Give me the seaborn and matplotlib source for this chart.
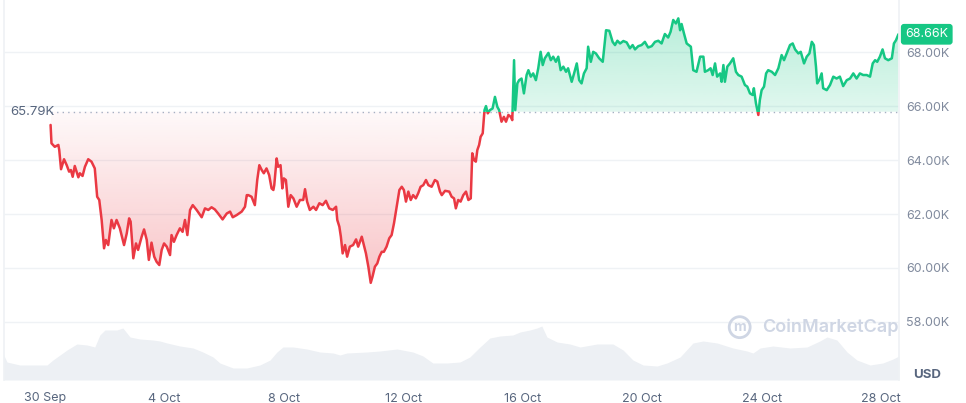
import matplotlib
matplotlib.use("Agg")
import matplotlib.pyplot as plt
import matplotlib.dates as mdates
import seaborn as sns
import numpy as np
import pandas as pd
from matplotlib.patches import Rectangle
from matplotlib.path import Path


START = pd.Timestamp("2024-09-30")
BASE_PRICE = 65.79
LAST_PRICE = 68.66

GREEN = "#16c784"
RED = "#ea3943"

# price in thousand USD, time in days after 30 Sep 00:00
price_day = [
    0.19, 0.22, 0.33, 0.45, 0.48, 0.54, 0.64, 0.73, 0.81, 0.87, 0.93, 1.00, 1.12, 1.17, 1.26, 1.34,
    1.45, 1.56, 1.67, 1.75, 1.82, 1.90, 1.98, 2.04, 2.12, 2.23, 2.31, 2.40, 2.51, 2.65, 2.74, 2.82,
    2.87, 2.96, 3.05, 3.12, 3.24, 3.32, 3.41, 3.48, 3.57, 3.66, 3.74, 3.83, 3.91, 3.99, 4.08, 4.19,
    4.24, 4.32, 4.41, 4.52, 4.61, 4.69, 4.77, 4.86, 4.95, 5.08, 5.25, 5.36, 5.47, 5.58, 5.69, 5.80,
    5.95, 6.09, 6.20, 6.29, 6.42, 6.59, 6.70, 6.76, 6.81, 6.92, 7.03, 7.11, 7.18, 7.26, 7.33, 7.42,
    7.51, 7.59, 7.65, 7.68, 7.76, 7.81, 7.89, 7.95, 8.00, 8.07, 8.15, 8.23, 8.32, 8.43, 8.54, 8.65,
    8.71, 8.78, 8.87, 8.99, 9.08, 9.19, 9.30, 9.41, 9.52, 9.64, 9.75, 9.79, 9.86, 9.91, 9.97, 10.05,
    10.12, 10.21, 10.32, 10.42, 10.49, 10.61, 10.68, 10.75, 10.83, 10.91, 10.97, 11.05, 11.13, 11.20,
    11.28, 11.35, 11.44, 11.53, 11.61, 11.69, 11.78, 11.87, 11.95, 12.02, 12.09, 12.17, 12.25, 12.33,
    12.42, 12.50, 12.58, 12.67, 12.76, 12.84, 12.95, 13.06, 13.14, 13.23, 13.29, 13.40, 13.54, 13.62,
    13.70, 13.76, 13.84, 13.92, 14.01, 14.10, 14.18, 14.26, 14.31, 14.37, 14.43, 14.48, 14.54, 14.59,
    14.66, 14.72, 14.77, 14.83, 14.90, 14.99, 15.07, 15.15, 15.21, 15.29, 15.37, 15.44, 15.52, 15.60,
    15.65, 15.71, 15.75, 15.82, 15.88, 15.96, 16.04, 16.13, 16.19, 16.27, 16.35, 16.44, 16.52, 16.60,
    16.67, 16.74, 16.86, 16.94, 17.02, 17.11, 17.19, 17.27, 17.36, 17.45, 17.52, 17.64, 17.72, 17.81,
    17.89, 17.97, 18.05, 18.14, 18.19, 18.28, 18.36, 18.45, 18.56, 18.68, 18.79, 18.90, 19.01, 19.09,
    19.17, 19.26, 19.37, 19.48, 19.59, 19.68, 19.76, 19.87, 19.98, 20.09, 20.20, 20.32, 20.43, 20.54,
    20.65, 20.76, 20.87, 20.95, 21.04, 21.13, 21.21, 21.27, 21.32, 21.40, 21.49, 21.63, 21.71, 21.82,
    21.94, 22.05, 22.10, 22.21, 22.29, 22.36, 22.44, 22.51, 22.61, 22.66, 22.72, 22.77, 22.85, 22.94,
    23.05, 23.14, 23.22, 23.33, 23.44, 23.52, 23.61, 23.70, 23.74, 23.81, 23.89, 23.94, 24.00, 24.08,
    24.15, 24.22, 24.34, 24.45, 24.56, 24.67, 24.75, 24.86, 24.95, 25.04, 25.12, 25.23, 25.31, 25.42,
    25.51, 25.60, 25.68, 25.75, 25.82, 25.86, 25.93, 26.01, 26.06, 26.18, 26.29, 26.40, 26.51, 26.62,
    26.73, 26.85, 26.96, 27.07, 27.18, 27.29, 27.40, 27.52, 27.63, 27.72, 27.80, 27.87, 27.96, 28.05,
    28.13, 28.24, 28.36, 28.43, 28.50, 28.58,
]
price_k = [
    65.30, 64.62, 64.49, 64.56, 64.37, 63.66, 64.03, 63.81, 63.57, 63.63, 63.38, 63.78, 63.36, 63.51, 63.41, 63.75,
    64.03, 63.94, 63.69, 62.64, 62.52, 61.78, 60.73, 61.04, 60.85, 61.78, 61.47, 61.78, 61.47, 60.85, 61.28, 61.84,
    61.72, 60.36, 60.91, 60.67, 61.16, 61.43, 61.04, 60.30, 60.94, 60.42, 60.23, 60.11, 60.67, 60.91, 60.79, 60.48,
    61.22, 60.97, 61.22, 61.47, 61.34, 61.78, 61.22, 62.15, 62.33, 62.15, 61.88, 62.21, 62.15, 62.25, 62.17, 62.02,
    61.80, 62.02, 62.09, 61.88, 61.96, 62.09, 62.27, 62.70, 62.70, 62.64, 62.33, 63.26, 63.81, 63.63, 63.51, 63.69,
    63.44, 62.95, 62.89, 63.07, 64.06, 63.75, 63.81, 62.95, 63.32, 63.26, 62.27, 62.70, 62.58, 62.27, 62.52, 62.52,
    62.92, 62.46, 62.15, 62.27, 62.15, 62.40, 62.33, 62.49, 62.21, 62.15, 62.27, 61.78, 61.53, 61.16, 60.54, 60.85,
    60.42, 60.79, 60.85, 61.06, 60.79, 61.16, 60.85, 60.54, 60.05, 59.45, 59.68, 60.05, 60.17, 60.42,
    60.60, 60.60, 60.79, 61.10, 61.22, 61.66, 62.27, 62.89, 63.01, 62.89, 62.46, 62.83, 62.52, 62.70,
    62.58, 62.77, 63.01, 63.07, 63.26, 63.07, 63.01, 63.26, 63.20, 62.83, 62.70, 62.86, 62.83, 62.64,
    62.58, 62.21, 62.52, 62.46, 62.70, 62.83, 62.52, 62.58, 64.25, 64.00, 63.94, 64.37, 64.56, 64.86,
    64.99, 65.85, 66.00, 65.73, 65.85, 65.91, 66.34, 65.97, 65.85, 65.42, 65.60, 65.42, 65.67, 65.60,
    65.48, 67.70, 65.85, 66.84, 66.96, 67.02, 66.47, 67.15, 67.33, 67.09, 67.21, 66.96, 67.40, 68.01,
    67.52, 67.77, 67.97, 67.70, 67.83, 67.64, 67.83, 67.33, 67.46, 67.27, 67.40, 66.90, 67.21, 67.58,
    66.96, 66.84, 67.21, 67.40, 68.20, 67.64, 68.01, 67.95, 67.77, 67.64, 68.81, 68.79, 68.38, 68.26,
    68.42, 68.32, 68.41, 68.36, 68.14, 68.26, 68.10, 68.22, 68.26, 68.38, 68.17, 68.22, 68.38, 68.42,
    68.32, 68.67, 68.54, 68.75, 69.19, 69.06, 69.25, 68.81, 69.04, 68.69, 68.32, 68.20, 67.33, 67.27,
    67.83, 67.83, 67.27, 67.33, 67.40, 67.15, 67.58, 67.09, 67.21, 66.90, 67.52, 66.90, 67.46, 67.58,
    67.77, 67.27, 67.15, 67.09, 66.78, 66.72, 66.47, 66.41, 66.66, 66.10, 65.67, 66.22, 66.59, 66.72,
    67.21, 67.33, 67.27, 67.15, 67.40, 67.89, 67.70, 68.01, 68.26, 68.32, 68.10, 67.95, 68.01, 67.58,
    67.83, 67.95, 68.38, 68.26, 67.46, 66.84, 66.96, 67.21, 66.66, 66.59, 66.78, 67.09, 67.02, 67.09,
    66.74, 66.96, 67.02, 67.21, 67.02, 67.21, 67.15, 67.15, 67.09, 67.58, 67.70, 67.64, 67.83, 68.10,
    67.77, 67.70, 67.77, 68.32, 68.44, 68.66,
]

# 24h volume, billion USD
vol_day = [
    -1.41, -1.27, -0.84, 0.07, 0.27, 0.74, 1.07, 1.41, 1.67, 1.84, 2.01, 2.41, 2.61, 2.85, 3.18, 3.62,
    3.85, 4.09, 4.52, 4.96, 5.29, 5.63, 5.86, 6.30, 6.76, 7.20, 7.54, 7.77, 7.97, 8.31, 8.77, 9.21,
    9.65, 9.88, 10.11, 10.78, 11.22, 11.79, 12.32, 12.66, 12.99, 13.46, 13.90, 14.23, 14.57, 14.90,
    15.24, 15.67, 15.91, 16.24, 16.48, 16.64, 16.81, 17.15, 17.58, 17.92, 18.49, 19.02, 19.36, 19.69,
    20.03, 20.50, 20.83, 21.27, 21.70, 22.04, 22.51, 23.04, 23.51, 23.71, 23.95, 24.38, 24.95, 25.52,
    25.95, 26.19, 26.52, 26.86, 27.19, 27.63, 28.06, 28.40, 28.60,
]
vol_b = [
    27, 18, 15, 15, 20, 30, 36, 35, 33, 45, 50, 50, 52, 43, 41, 40,
    39, 37, 34, 32, 28, 23, 17, 12, 12, 15, 20, 28, 33, 33, 31, 28,
    27, 25, 27, 28, 29, 31, 28, 24, 17, 17, 18, 23, 33, 42,
    44, 45, 48, 50, 52, 54, 43, 38, 36, 33, 36, 36, 30, 20,
    15, 14, 17, 23, 37, 39, 37, 32, 29, 27, 32, 34, 32, 33,
    39, 43, 40, 28, 20, 15, 17, 21, 24,
]

tick_days = [0, 4, 8, 12, 16, 20, 24, 28]
tick_labels = ["30 Sep", "4 Oct", "8 Oct", "12 Oct", "16 Oct", "20 Oct", "24 Oct", "28 Oct"]
y_ticks = [58, 60, 62, 64, 66, 68]

df = pd.DataFrame({"time": START + pd.to_timedelta(price_day, unit="D"), "price": price_k})
vol = pd.DataFrame({"time": START + pd.to_timedelta(vol_day, unit="D"), "volume": vol_b})

sns.set_theme(style="white")
plt.rcParams["font.family"] = ["Inter", "DejaVu Sans"]

fig = plt.figure(figsize=(9.66, 4.03), dpi=100)
ax = fig.add_axes([4 / 966, 23 / 403, 895 / 966, 380 / 403])
vax = ax.twinx()

x0 = START - pd.Timedelta(days=1.37)
x1 = START + pd.Timedelta(days=28.6)
x0n, x1n = mdates.date2num(x0), mdates.date2num(x1)

# volume in the background
vax.fill_between(vol["time"], vol["volume"], 0, color="#edf0f4", lw=0)
vax.set_ylim(0, 380)
vax.axis("off")
vax.set_zorder(1)
ax.set_zorder(2)
ax.patch.set_visible(False)

# gradient fills between price and the reference price
t = mdates.date2num(df["time"])
p = df["price"].to_numpy()
fills = [
    (p >= BASE_PRICE, (22, 199, 132), BASE_PRICE, p.max(), 0.13, 0.30),
    (p <= BASE_PRICE, (234, 57, 67), p.min(), BASE_PRICE, 0.30, 0.03),
]
for mask, rgb, lo, hi, a_lo, a_hi in fills:
    poly = ax.fill_between(t, p, BASE_PRICE, where=mask, interpolate=True,
                           facecolor="none", edgecolor="none")
    path = Path.make_compound_path(*poly.get_paths())
    grad = np.zeros((200, 1, 4))
    grad[:, 0, :3] = np.array(rgb) / 255
    grad[:, 0, 3] = np.linspace(a_lo, a_hi, 200)
    im = ax.imshow(grad, extent=[t[0], t[-1], lo, hi], aspect="auto",
                   origin="lower", zorder=1, interpolation="bilinear")
    im.set_clip_path(path, ax.transData)

ax.hlines(BASE_PRICE, df["time"].iloc[0], x1, colors="#a6b0c3",
          linestyles=(0, (1, 3)), lw=1, zorder=1.5)

# price line: green above the reference price, red below
green_clip = Rectangle((x0n, BASE_PRICE), x1n - x0n, 30, transform=ax.transData)
red_clip = Rectangle((x0n, BASE_PRICE - 30), x1n - x0n, 30, transform=ax.transData)
sns.lineplot(data=df, x="time", y="price", ax=ax, color=GREEN, lw=1.8)
ax.lines[-1].set_clip_path(green_clip)
sns.lineplot(data=df, x="time", y="price", ax=ax, color=RED, lw=1.8)
ax.lines[-1].set_clip_path(red_clip)

ax.set_xlim(x0, x1)
ax.set_ylim(55.85, 69.93)
vax.set_xlim(x0, x1)
ax.set_xlabel("")
ax.set_ylabel("")

ax.set_xticks(START + pd.to_timedelta(tick_days, unit="D"))
ax.set_xticklabels(tick_labels)
ax.set_yticks(y_ticks)
ax.set_yticklabels([f"{v:.2f}K" for v in y_ticks])
ax.yaxis.tick_right()
ax.tick_params(axis="x", length=0, pad=9, labelsize=9, labelcolor="#58667e")
ax.tick_params(axis="y", length=0, pad=5, labelsize=9, labelcolor="#808a9d")
ax.yaxis.grid(True, color="#eff2f5", lw=1)
ax.xaxis.grid(False)
for side in ["top", "bottom"]:
    ax.spines[side].set_visible(False)
for side in ["left", "right"]:
    ax.spines[side].set_color("#eff2f5")

ax.annotate(f"{BASE_PRICE:.2f}K", xy=(0, BASE_PRICE), xycoords=("axes fraction", "data"),
            xytext=(4.5, 0), textcoords="offset points", ha="left", va="center",
            fontsize=9.5, color="#58667e")
ax.annotate(f"{LAST_PRICE:.2f}K", xy=(1, LAST_PRICE), xycoords=("axes fraction", "data"),
            xytext=(4.5, 0), textcoords="offset points", ha="left", va="center",
            fontsize=9, color="white", annotation_clip=False,
            bbox=dict(boxstyle="round,pad=0.35,rounding_size=0.25", fc=GREEN, ec="none"))

# watermark
ax.text(0.822, 0.139, "m", transform=ax.transAxes, ha="center", va="center",
        fontsize=10, fontweight="bold", color="#cfd6e4",
        bbox=dict(boxstyle="circle,pad=0.25", fc="none", ec="#cfd6e4", lw=2))
ax.text(0.847, 0.139, "CoinMarketCap", transform=ax.transAxes, ha="left", va="center",
        fontsize=13, fontweight="semibold", color="#cfd6e4")

fig.text(927 / 966, 1 - 375 / 403, "USD", ha="center", va="center",
         fontsize=9.5, fontweight="bold", color="#58667e")

fig.savefig("out.png", dpi=100)
